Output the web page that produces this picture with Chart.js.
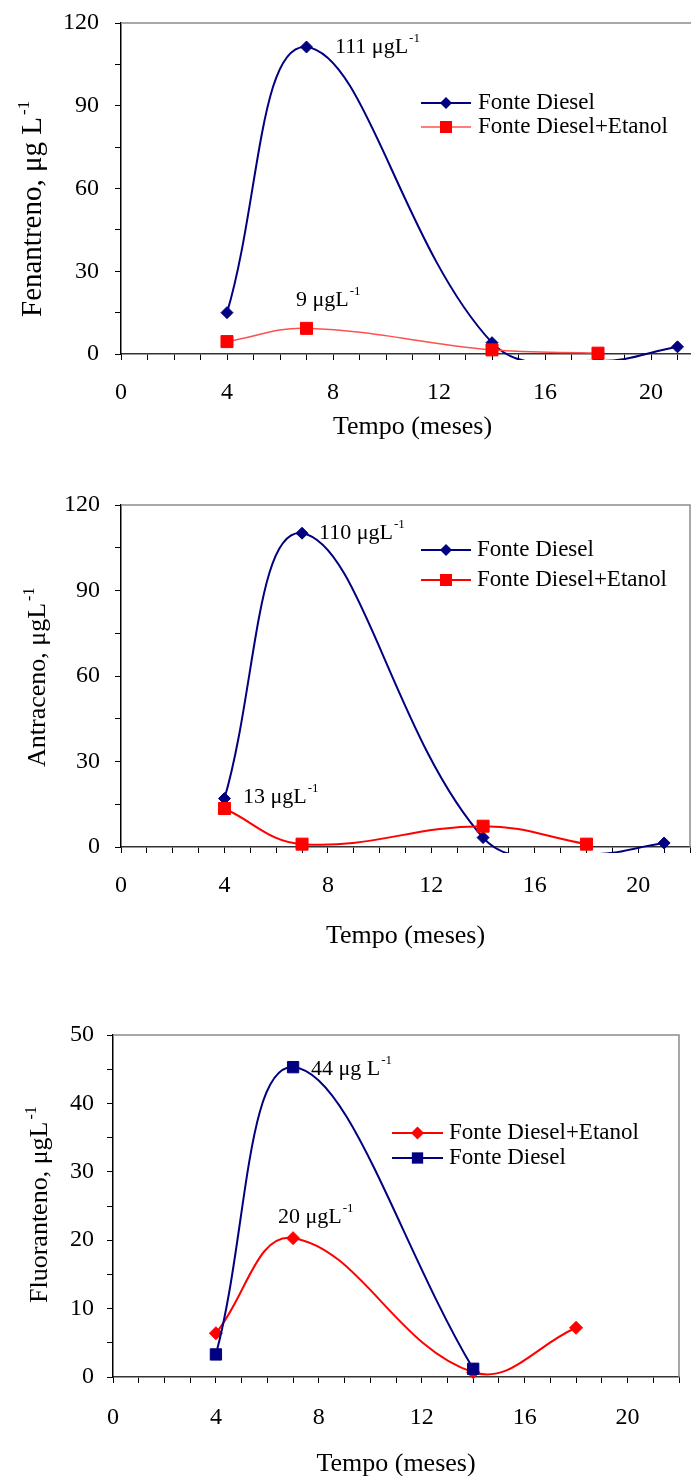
<!DOCTYPE html>
<html><head><meta charset="utf-8">
<script src="https://cdn.jsdelivr.net/npm/chart.js@4.4.1/dist/chart.umd.min.js"></script>
<style>
html,body{margin:0;padding:0;background:#fff;}
#wrap{position:relative;width:691px;height:1476px;overflow:hidden;background:#fff;}
canvas{position:absolute;left:0;}
</style></head><body>
<div id="wrap">
<canvas id="c1" width="720" height="465" style="top:0px"></canvas>
<canvas id="c2" width="700" height="490" style="top:470px"></canvas>
<canvas id="c3" width="700" height="476" style="top:1000px"></canvas>
</div>
<script>
// ---------------- data ----------------
const xTickLabels = [0, 4, 8, 12, 16, 20];
const yTickLabelsFen = [0, 30, 60, 90, 120];
const yTickLabelsAnt = [0, 30, 60, 90, 120];
const yTickLabelsFlu = [0, 10, 20, 30, 40, 50];

const seriesNames = ['Fonte Diesel', 'Fonte Diesel+Etanol'];

// Fenantreno
const fenMonthsDiesel = [4, 7, 14, 18, 21];
const fenDiesel       = [15.0, 111.3, 4.1, -2.5, 2.6];
const fenMonthsEtanol = [4, 7, 14, 18];
const fenEtanol       = [4.5, 9.3, 1.5, 0.3];

// Antraceno
const antMonthsDiesel = [4, 7, 14, 18, 21];
const antDiesel       = [17.0, 110.1, 3.3, -2.5, 1.4];
const antMonthsEtanol = [4, 7, 14, 18];
const antEtanol       = [13.5, 1.0, 7.3, 1.0];

// Fluoranteno
const fluMonthsDiesel = [4, 7, 14];
const fluDiesel       = [3.3, 45.3, 1.2];
const fluMonthsEtanol = [4, 7, 14, 18];
const fluEtanol       = [6.4, 20.3, 0.7, 7.2];

// ---------------- styling ----------------
const FONT = "'Liberation Serif', 'Times New Roman', Times, serif";
const NAVY = '#000080', RED = '#ff0000', PINK = '#ff5050';
const TICK_SIZE = 24;

function drawMarker(ctx, style, r, x, y, color) {
  ctx.save();
  ctx.fillStyle = color;
  ctx.beginPath();
  if (style === 'rectRot') {
    ctx.moveTo(x - r, y); ctx.lineTo(x, y - r); ctx.lineTo(x + r, y); ctx.lineTo(x, y + r);
  } else {
    const h = r * Math.SQRT1_2;
    ctx.rect(x - h, y - h, 2 * h, 2 * h);
  }
  ctx.closePath();
  ctx.fill();
  ctx.restore();
}

function supText(ctx, x, y, main, sup, size) {
  ctx.font = size + 'px ' + FONT;
  ctx.textAlign = 'left';
  ctx.textBaseline = 'middle';
  ctx.fillText(main, x, y);
  const w = ctx.measureText(main).width;
  ctx.font = Math.round(size * 0.6) + 'px ' + FONT;
  ctx.fillText(sup, x + w + 1, y - size * 0.38);
}

function decorPlugin(cfg) {
  return {
    id: 'decor',
    beforeDatasetsDraw(chart) {
      const {ctx, chartArea: a} = chart;
      ctx.save();
      ctx.strokeStyle = '#8c8c8c';
      ctx.lineWidth = 1.5;
      ctx.beginPath();
      ctx.moveTo(a.left, a.top);
      ctx.lineTo(a.right, a.top);
      ctx.lineTo(a.right, a.bottom);
      ctx.stroke();
      ctx.restore();
    },
    afterDraw(chart) {
      const {ctx, chartArea: a} = chart;
      ctx.save();
      ctx.fillStyle = '#000';
      // x title
      ctx.font = cfg.xTitle.size + 'px ' + FONT;
      ctx.textAlign = 'center';
      ctx.textBaseline = 'middle';
      ctx.fillText('Tempo (meses)', (a.left + a.right) / 2, cfg.xTitle.y);
      // y title (rotated)
      const yt = cfg.yTitle;
      ctx.save();
      ctx.translate(yt.x, yt.y);
      ctx.rotate(-Math.PI / 2);
      ctx.font = yt.size + 'px ' + FONT;
      ctx.textAlign = 'left';
      ctx.textBaseline = 'alphabetic';
      ctx.fillText(yt.text, 0, 0);
      const w = ctx.measureText(yt.text).width;
      ctx.font = Math.round(yt.size * 0.6) + 'px ' + FONT;
      ctx.fillText('-1', w + 2, -yt.size * 0.42);
      ctx.restore();
      // annotations
      cfg.notes.forEach(n => supText(ctx, n.x, n.y, n.text, '-1', n.size));
      // legend
      const lg = cfg.legend;
      lg.items.forEach((it, i) => {
        const y = lg.rows[i];
        ctx.strokeStyle = it.color;
        ctx.lineWidth = it.width;
        ctx.beginPath();
        ctx.moveTo(lg.x1, y); ctx.lineTo(lg.x2, y);
        ctx.stroke();
        drawMarker(ctx, it.style, it.radius, (lg.x1 + lg.x2) / 2, y, it.markerColor);
        ctx.fillStyle = '#000';
        ctx.font = lg.size + 'px ' + FONT;
        ctx.textAlign = 'left';
        ctx.textBaseline = 'middle';
        ctx.fillText(it.label, lg.textX, y);
      });
      ctx.restore();
    }
  };
}

function makeChart(id, cfg) {
  const canvas = document.getElementById(id);
  const W = canvas.width, H = canvas.height;
  const p = cfg.plot;
  const datasets = cfg.series.map(s => ({
    label: s.label,
    data: s.x.map((x, i) => ({x: x, y: s.y[i]})),
    borderColor: s.color,
    backgroundColor: s.markerColor,
    borderWidth: s.width,
    pointStyle: s.style,
    pointRadius: s.radius,
    pointHoverRadius: s.radius,
    pointBackgroundColor: s.markerColor,
    pointBorderColor: s.markerColor,
    pointBorderWidth: 1,
    tension: 0.4,
    capBezierPoints: false,
    fill: false,
    clip: {left: 30, right: 30, top: 30, bottom: 6}
  }));
  return new Chart(canvas, {
    type: 'line',
    data: {datasets},
    options: {
      responsive: false,
      animation: false,
      events: [],
      layout: {padding: {top: p.top, left: 0, right: W - p.right, bottom: 0}},
      plugins: {legend: {display: false}, tooltip: {enabled: false}},
      scales: {
        x: {
          type: 'linear', min: 0, max: 22,
          afterFit: s => { s.height = H - p.bottom; s.paddingLeft = 0; s.paddingRight = 0; },
          ticks: {
            stepSize: 1, autoSkip: false, maxRotation: 0, minRotation: 0, maxTicksLimit: 100,
            padding: cfg.xPad, color: '#000', font: {family: FONT, size: TICK_SIZE},
            callback: v => xTickLabels.includes(v) ? String(v) : ''
          },
          grid: {drawOnChartArea: false, drawTicks: true, tickLength: 6, color: '#000', lineWidth: 1},
          border: {display: true, color: '#333', width: 1.5}
        },
        y: {
          type: 'linear', min: 0, max: cfg.yMax,
          afterFit: s => { s.width = p.left; s.paddingTop = 0; s.paddingBottom = 0; },
          ticks: {
            stepSize: cfg.yStep, autoSkip: false, maxTicksLimit: 100,
            padding: cfg.yPad, color: '#000', font: {family: FONT, size: TICK_SIZE},
            callback: v => cfg.yLabels.includes(v) ? String(v) : ''
          },
          grid: {drawOnChartArea: false, drawTicks: true, tickLength: 6, color: '#000', lineWidth: 1},
          border: {display: true, color: '#000', width: 1.5}
        }
      }
    },
    plugins: [decorPlugin(cfg)]
  });
}

// ---------- Chart 1: Fenantreno ----------
makeChart('c1', {
  plot: {left: 121, right: 704, top: 23, bottom: 354},
  yMax: 120, yStep: 15, yLabels: yTickLabelsFen, xPad: 18, yPad: 16,
  series: [
    {label: seriesNames[1], x: fenMonthsEtanol, y: fenEtanol, color: PINK, markerColor: RED, width: 1.5, style: 'rect', radius: 8.5},
    {label: seriesNames[0], x: fenMonthsDiesel, y: fenDiesel, color: NAVY, markerColor: NAVY, width: 2, style: 'rectRot', radius: 6}
  ],
  xTitle: {y: 427, size: 26},
  yTitle: {text: 'Fenantreno, μg L', x: 41, y: 317, size: 29},
  notes: [
    {text: '111 μgL', x: 335, y: 47, size: 22},
    {text: '9 μgL', x: 296, y: 300, size: 22}
  ],
  legend: {x1: 421, x2: 471, textX: 478, rows: [103, 127], size: 23,
    items: [
      {label: seriesNames[0], color: NAVY, markerColor: NAVY, width: 2, style: 'rectRot', radius: 6},
      {label: seriesNames[1], color: PINK, markerColor: RED, width: 1.5, style: 'rect', radius: 8.5}
    ]}
});

// ---------- Chart 2: Antraceno ----------
makeChart('c2', {
  plot: {left: 121, right: 690, top: 35, bottom: 377},
  yMax: 120, yStep: 15, yLabels: yTickLabelsAnt, xPad: 18, yPad: 15,
  series: [
    {label: seriesNames[1], x: antMonthsEtanol, y: antEtanol, color: RED, markerColor: RED, width: 2, style: 'rect', radius: 8.5},
    {label: seriesNames[0], x: antMonthsDiesel, y: antDiesel, color: NAVY, markerColor: NAVY, width: 2, style: 'rectRot', radius: 6}
  ],
  xTitle: {y: 466, size: 26},
  yTitle: {text: 'Antraceno, μgL', x: 45, y: 297, size: 26},
  notes: [
    {text: '110 μgL', x: 319, y: 63, size: 22},
    {text: '13 μgL', x: 243, y: 327, size: 22}
  ],
  legend: {x1: 421, x2: 471, textX: 477, rows: [80, 110], size: 23,
    items: [
      {label: seriesNames[0], color: NAVY, markerColor: NAVY, width: 2, style: 'rectRot', radius: 6},
      {label: seriesNames[1], color: RED, markerColor: RED, width: 2, style: 'rect', radius: 8.5}
    ]}
});

// ---------- Chart 3: Fluoranteno ----------
makeChart('c3', {
  plot: {left: 113, right: 679, top: 35, bottom: 377},
  yMax: 50, yStep: 5, yLabels: yTickLabelsFlu, xPad: 20, yPad: 13,
  series: [
    {label: seriesNames[0], x: fluMonthsDiesel, y: fluDiesel, color: NAVY, markerColor: NAVY, width: 2, style: 'rect', radius: 8},
    {label: seriesNames[1], x: fluMonthsEtanol, y: fluEtanol, color: RED, markerColor: RED, width: 2, style: 'rectRot', radius: 6.5}
  ],
  xTitle: {y: 464, size: 26},
  yTitle: {text: 'Fluoranteno, μgL', x: 47, y: 303, size: 26},
  notes: [
    {text: '44 μg L', x: 311, y: 69, size: 22},
    {text: '20 μgL', x: 278, y: 217, size: 22}
  ],
  legend: {x1: 392, x2: 443, textX: 449, rows: [133, 158], size: 23,
    items: [
      {label: seriesNames[1], color: RED, markerColor: RED, width: 2, style: 'rectRot', radius: 6.5},
      {label: seriesNames[0], color: NAVY, markerColor: NAVY, width: 2, style: 'rect', radius: 8}
    ]}
});
</script>
</body></html>
